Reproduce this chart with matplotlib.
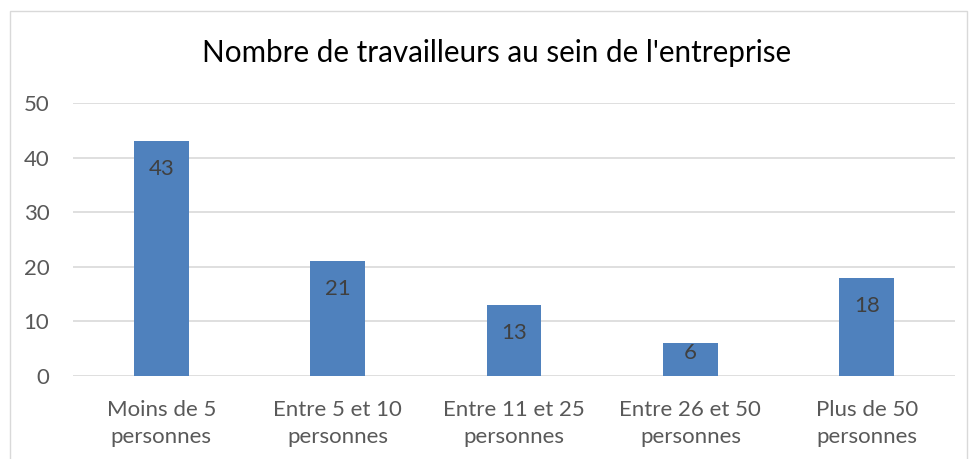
import matplotlib

matplotlib.use("Agg")

import matplotlib.pyplot as plt
from matplotlib.patches import Rectangle

CATEGORIES = [
    "Moins de 5\npersonnes",
    "Entre 5 et 10\npersonnes",
    "Entre 11 et 25\npersonnes",
    "Entre 26 et 50\npersonnes",
    "Plus de 50\npersonnes",
]
VALUES = [43, 21, 13, 6, 18]
Y_TICKS = [0, 10, 20, 30, 40, 50]
TITLE = "Nombre de travailleurs au sein de l'entreprise"

BAR_COLOR = "#4f81bd"
GRID_COLOR = "#d9d9d9"
TICK_COLOR = "#595959"
LABEL_COLOR = "#404040"

plt.rcParams["font.family"] = ["Lato", "DejaVu Sans"]

W, H = 972, 459
fig = plt.figure(figsize=(W / 100, H / 100), dpi=100)

# outer chart frame
fig.patches.append(
    Rectangle((10 / W, -0.01), 957 / W, 1 - 11 / H + 0.01, transform=fig.transFigure,
              fill=False, edgecolor="#d9d9d9", linewidth=1.0)
)

ax = fig.add_axes([73 / W, 1 - 376 / H, (955 - 73) / W, (376 - 103) / H])
x = list(range(len(CATEGORIES)))
bars = ax.bar(x, VALUES, width=0.31, color=BAR_COLOR, zorder=3)

ax.set_xlim(-0.5, len(CATEGORIES) - 0.5)
ax.set_ylim(0, 50)
ax.set_yticks(Y_TICKS)
ax.set_xticks(x)
ax.set_xticklabels(CATEGORIES, linespacing=1.45)
ax.tick_params(axis="both", length=0, colors=TICK_COLOR, labelsize=16)
ax.tick_params(axis="x", pad=17)
ax.tick_params(axis="y", pad=17)
ax.grid(axis="y", color=GRID_COLOR, linewidth=1.2, zorder=0)
for s in ax.spines.values():
    s.set_visible(False)

px_per_unit = (376 - 103) / 50
for xi, v in zip(x, VALUES):
    pad_px = 18 if v * px_per_unit > 50 else 0
    ax.annotate(str(v), (xi, v), xytext=(0, -pad_px * 0.72), textcoords="offset points",
                ha="center", va="top", fontsize=16, color=LABEL_COLOR, zorder=4)

fig.text(497 / W, 1 - 53 / H, TITLE, ha="center", va="center", fontsize=21.3, color="#000000")

fig.savefig("out.png", dpi=100)
